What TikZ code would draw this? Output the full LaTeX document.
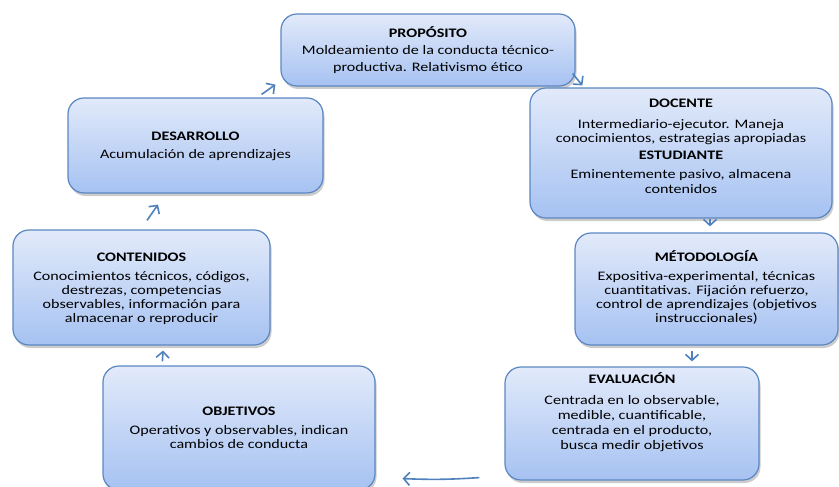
\documentclass[tikz,border=0pt]{standalone}
\usepackage{fontspec}
\setmainfont{Carlito}[FakeStretch=1.24]
\usetikzlibrary{arrows.meta, positioning, shadows, calc}
\definecolor{boxtop}{HTML}{E2EAFA}
\definecolor{boxbottom}{HTML}{A6C2F2}
\definecolor{boxline}{HTML}{5B87C2}
\definecolor{arrowblue}{HTML}{4F81BD}

\begin{document}
\begin{tikzpicture}[
    x=1pt, y=-1pt,
    box/.style={rectangle, rounded corners=16pt, draw=boxline, line width=1.2pt,
                top color=boxtop, bottom color=boxbottom, inner sep=0pt,
                drop shadow={shadow xshift=1.5pt, shadow yshift=-3pt, opacity=0.4}},
    title/.style={font=\fontsize{13}{14}\selectfont\bfseries, inner sep=0pt, anchor=base},
    body/.style={font=\fontsize{13}{14}\selectfont, align=center, inner sep=0pt},
    arrow/.style={-{Straight Barb[length=6pt, width=13pt]}, line width=1.6pt, arrowblue}
]
    \useasboundingbox (0,0) rectangle (839,487);

    % Boxes
    \node[box, minimum width=294pt, minimum height=72pt] (proposito) at (428,50) {};
    \node[box, minimum width=302pt, minimum height=130pt] (docente) at (681,153) {};
    \node[box, minimum width=263pt, minimum height=112pt] (metodologia) at (706.5,289) {};
    \node[box, minimum width=254pt, minimum height=113pt] (evaluacion) at (632,423.5) {};
    \node[box, minimum width=272pt, minimum height=124pt] (objetivos) at (239,428) {};
    \node[box, minimum width=257pt, minimum height=115pt] (contenidos) at (141.5,287.5) {};
    \node[box, minimum width=255pt, minimum height=95pt] (desarrollo) at (195.5,145.5) {};

    % Proposito
    \node[title] (propt) at ([yshift=-24pt]proposito.north) {PROPÓSITO};
    \node[body, below=8pt of propt.base] (propb)
        {Moldeamiento de la conducta técnico-\\[3pt]productiva. Relativismo ético};

    % Docente / Estudiante
    \node[title] (doct) at ([yshift=-20pt]docente.north) {DOCENTE};
    \node[body, below=12pt of doct.base, font=\fontsize{13}{13.5}\selectfont] (docb)
        {Intermediario-ejecutor. Maneja\\conocimientos, estrategias apropiadas};
    \node[title, anchor=north, below=6pt of docb] (estt) {ESTUDIANTE};
    \node[body, below=10pt of estt.base, font=\fontsize{13}{15}\selectfont] (estb)
        {Eminentemente pasivo, almacena\\contenidos};

    % Metodologia
    \node[title] (metot) at ([yshift=-29pt]metodologia.north) {MÉTODOLOGÍA};
    \node[body, below=10pt of metot.base] (metob)
        {Expositiva-experimental, técnicas\\cuantitativas. Fijación refuerzo,\\control de aprendizajes (objetivos\\instruccionales)};

    % Evaluacion
    \node[title] (evalt) at ([yshift=-17pt]evaluacion.north) {EVALUACIÓN};
    \node[body, below=12pt of evalt.base, font=\fontsize{13}{15}\selectfont] (evalb)
        {Centrada en lo observable,\\medible, cuantificable,\\centrada en el producto,\\busca medir objetivos};

    % Objetivos
    \node[title] (objt) at ([yshift=-50pt]objetivos.north) {OBJETIVOS};
    \node[body, below=10pt of objt.base] (objb)
        {Operativos y observables, indican\\cambios de conducta};

    % Contenidos
    \node[title] (contt) at ([yshift=-32pt]contenidos.north) {CONTENIDOS};
    \node[body, below=10pt of contt.base] (contb)
        {Conocimientos técnicos, códigos,\\destrezas, competencias\\observables, información para\\almacenar o reproducir};

    % Desarrollo
    \node[title] (dest) at ([yshift=-43pt]desarrollo.north) {DESARROLLO};
    \node[body, below=9pt of dest.base] (desb) {Acumulación de aprendizajes};

    % Arrows
    \draw[arrow] ([shift={(-62,-3)}]desarrollo.north east) -- ([shift={(-5,-2)}]proposito.south west);
    \draw[arrow] ([shift={(-3,-13)}]proposito.south east) -- ([shift={(53,-2)}]docente.north west);
    \draw[arrow] ([shift={(29,0)}]docente.south) -- ([shift={(3.5,-6)}]metodologia.north);
    \draw[arrow] ([shift={(-14.5,5)}]metodologia.south) -- ([shift={(60,-5)}]evaluacion.north);
    \draw[arrow] ([shift={(-25,-3)}]evaluacion.south west) to[bend left=3] ([shift={(27,-12)}]objetivos.south east);
    \draw[arrow] ([shift={(60,-4)}]objetivos.north west) -- ([shift={(21.5,5)}]contenidos.south);
    \draw[arrow] ([shift={(5.5,-9)}]contenidos.north) -- ([shift={(-37.5,11)}]desarrollo.south);
\end{tikzpicture}
\end{document}
